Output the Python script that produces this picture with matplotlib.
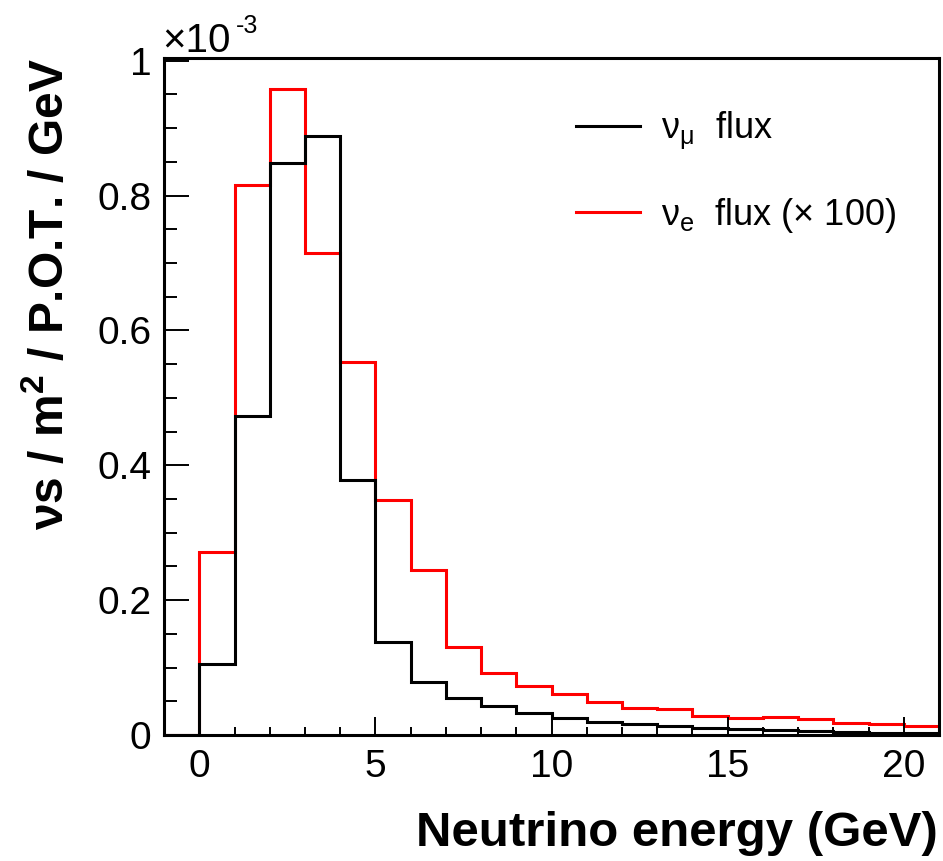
import numpy as np
import matplotlib
matplotlib.use("Agg")
import matplotlib.pyplot as plt
from matplotlib.lines import Line2D
from matplotlib.ticker import MultipleLocator

plt.rcParams['font.family'] = ['Liberation Sans', 'DejaVu Sans']
plt.rcParams['mathtext.default'] = 'regular'

# bin edges in GeV (1 GeV bins, first bin -1..0 is empty)
edges = np.arange(-1, 22, 1)

# nu_mu flux, units of 1e-3
numu_flux = [0.0, 0.105, 0.473, 0.849, 0.889, 0.378, 0.138, 0.079, 0.055, 0.043,
             0.033, 0.026, 0.020, 0.016, 0.013, 0.010, 0.0084, 0.007, 0.0055,
             0.004, 0.0035, 0.003]
# nu_e flux x 100, units of 1e-3
nue_flux = [0.0, 0.272, 0.816, 0.958, 0.715, 0.553, 0.349, 0.245, 0.131, 0.0915,
            0.072, 0.061, 0.0485, 0.0405, 0.039, 0.028, 0.025, 0.0267, 0.024,
            0.018, 0.016, 0.0134]

xticks = [0, 5, 10, 15, 20]
yticks = [0, 0.2, 0.4, 0.6, 0.8, 1]
ytick_labels = ['0', '0.2', '0.4', '0.6', '0.8', '1']

fig = plt.figure(figsize=(9.43, 8.61), dpi=100)
ax = fig.add_axes([0.174, 0.1463, 0.8218, 0.7863])

# red first so the black histogram sits on top like in the original
ax.stairs(nue_flux, edges, color='red', lw=2.2)
ax.stairs(numu_flux, edges, color='black', lw=2.2)

ax.set_xlim(-1, 21)
ax.set_ylim(0, 1.004)

ax.set_xticks(xticks)
ax.set_yticks(yticks)
ax.set_yticklabels(ytick_labels)
ax.xaxis.set_minor_locator(MultipleLocator(1))
ax.yaxis.set_minor_locator(MultipleLocator(0.05))
ax.tick_params(which='both', direction='in', width=1.4, top=False, right=False, labelsize=28)
ax.tick_params(axis='y', which='major', length=18, pad=9)
ax.tick_params(axis='y', which='minor', length=9)
ax.tick_params(axis='x', which='major', length=13, pad=10)
ax.tick_params(axis='x', which='minor', length=6)
for s in ax.spines.values():
    s.set_linewidth(2.2)

# exponent label, hyphen kept as in the original
fig.text(162 / 943, 1 - 52 / 861, '×10', fontsize=29, ha='left', va='baseline')
fig.text(236 / 943, 1 - 33 / 861, '-3', fontsize=18, ha='left', va='baseline')

fig.text(0.995, 0.017, 'Neutrino energy (GeV)', fontsize=35.5, fontweight='bold',
         ha='right', va='baseline')
fig.text(0.053, 0.932, 'νs / m$^{2}$ / P.O.T. / GeV', fontsize=34.5, fontweight='bold',
         rotation=90, ha='center', va='top')

handles = [Line2D([], [], color='black', lw=2.2), Line2D([], [], color='red', lw=2.2)]
labels = ['ν$_{μ}$  flux', 'ν$_{e}$  flux (× 100)']
ax.legend(handles, labels, loc='upper left', bbox_to_anchor=(0.49, 0.972), frameon=False,
          fontsize=26, handlelength=1.75, handletextpad=0.6, labelspacing=1.22)

fig.savefig('out.png', dpi=100)
